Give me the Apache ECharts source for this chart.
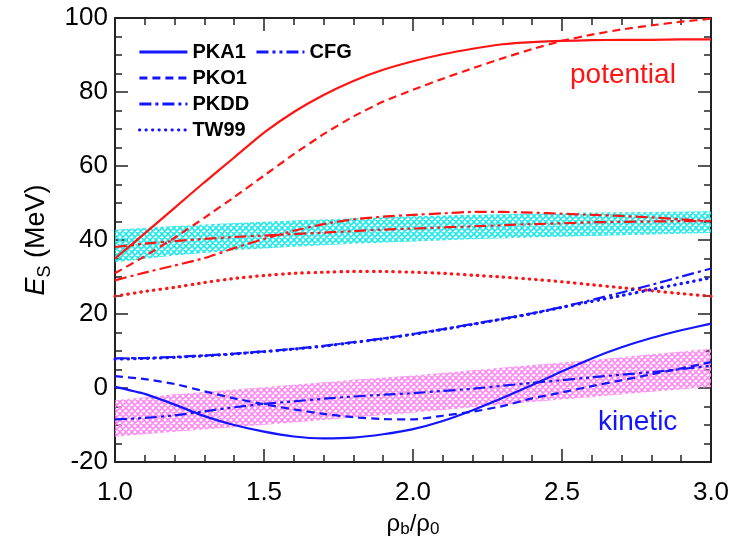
<!DOCTYPE html>
<html><head><meta charset="utf-8">
<script src="https://cdn.jsdelivr.net/npm/echarts/dist/echarts.min.js"></script>
<style>html,body{margin:0;padding:0;background:#fff}#c{width:746px;height:543px}</style>
</head><body><div id="c"></div>
<script>
// x values: rho_b / rho_0
const xs = [1.0,1.1,1.2,1.3,1.4,1.5,1.6,1.7,1.8,1.9,2.0,2.1,2.2,2.3,2.4,2.5,2.6,2.7,2.8,2.9,3.0];
// potential parts (red)
const pka1Pot = [35,41.8,48.7,55.6,62.3,69,74.6,79.2,83,86,88.3,90.2,91.7,92.9,93.5,93.8,94,94.1,94.1,94.2,94.2];
const pko1Pot = [31,35.6,40.6,46,51.6,57.4,63.2,68.6,73.4,77.4,80.6,83.6,86.4,89.1,91.6,93.8,95.5,96.9,98,99,99.8];
const pkddPot = [29.1,31.2,33.1,35.1,37.8,40.3,42.5,44.3,45.6,46.3,46.8,47.2,47.6,47.6,47.4,47.1,46.8,46.5,46.1,45.6,45.1];
const tw99Pot = [24.8,26.1,27.2,28.5,29.6,30.4,31,31.3,31.5,31.5,31.3,31,30.5,30,29.4,28.7,27.9,27.1,26.3,25.5,24.8];
const cfgPot  = [38.1,39,39.7,40.3,40.8,41.2,41.6,42,42.4,42.8,43.1,43.4,43.7,44,44.3,44.5,44.8,44.9,45,45.1,45.1];
// kinetic parts (blue)
const pka1Kin = [0.3,-1.6,-4.5,-7.6,-10,-11.8,-13.1,-13.6,-13.4,-12.5,-11.1,-8.9,-6,-2.7,0.8,4.5,8,11,13.5,15.6,17.4];
const pko1Kin = [3.2,2.4,1.1,-0.9,-2.8,-4.4,-5.8,-7,-7.9,-8.4,-8.5,-7.5,-6.4,-4.9,-2.8,-1.2,0.5,2.1,3.7,5.3,7];
const pkddKin = [8,8.1,8.4,8.8,9.3,9.9,10.6,11.4,12.4,13.4,14.6,15.9,17.3,18.7,20.2,21.9,23.8,25.8,27.9,30.1,32.3];
const tw99Kin = [7.8,8,8.3,8.7,9.2,9.8,10.5,11.3,12.3,13.3,14.5,15.8,17.2,18.6,20.1,21.8,23.4,25,26.6,28.2,29.8];
const cfgKin  = [-8.5,-8.1,-7.4,-6.3,-5.2,-4.3,-3.6,-2.9,-2.3,-1.8,-1.4,-0.8,-0.2,0.6,1.4,2.1,2.9,3.6,4.3,5.1,6];
// bands
const bandX = [1.0,1.2,1.4,1.6,1.8,2.0,2.2,2.4,2.6,2.8,3.0];
const cyanLow  = [34,35.8,37.2,38.2,39,39.6,40.2,40.7,41.1,41.5,41.9];
const cyanHigh = [42.8,43.8,44.6,45.3,45.9,46.4,46.8,47.1,47.4,47.6,47.8];
const magLow   = [-13.2,-11.8,-10.6,-9.3,-8,-6.7,-5.2,-3.8,-2.4,-1,0.3];
const magHigh  = [-3.3,-1.7,-0.4,0.9,2.2,3.4,4.8,6.2,7.6,9.1,10.6];
// axis ticks
const xTicks = [1.0,1.5,2.0,2.5,3.0];
const yTicks = [-20,0,20,40,60,80,100];
const modelNames = ['PKA1','PKO1','PKDD','TW99','CFG'];

const RED = '#ff1414', BLUE = '#1414ff';
const FONT = 'Liberation Sans, Arial, sans-serif';

function hatch(color) {
  const c = document.createElement('canvas');
  c.width = 6; c.height = 6;
  const g = c.getContext('2d');
  g.strokeStyle = color; g.lineWidth = 1.6;
  g.beginPath();
  g.moveTo(-1,-1); g.lineTo(7,7);
  g.moveTo(7,-1); g.lineTo(-1,7);
  g.moveTo(-4,2); g.lineTo(2,-4); g.moveTo(4,10); g.lineTo(10,4);
  g.moveTo(2,10); g.lineTo(-4,4); g.moveTo(10,2); g.lineTo(4,-4);
  g.stroke();
  return c;
}

const pair = (xArr, yArr) => xArr.map((x, i) => [x, yArr[i]]);
const styles = {
  PKA1: {type: 'solid', width: 2.2},
  PKO1: {type: [8, 5], width: 2.2},
  PKDD: {type: [12, 4, 3, 4], width: 2.2},
  TW99: {type: [0.5, 6], width: 3.2, cap: 'round'},
  CFG:  {type: [12, 4, 3, 4, 3, 4], width: 2.2}
};
const potData = {PKA1: pka1Pot, PKO1: pko1Pot, PKDD: pkddPot, TW99: tw99Pot, CFG: cfgPot};
const kinData = {PKA1: pka1Kin, PKO1: pko1Kin, PKDD: pkddKin, TW99: tw99Kin, CFG: cfgKin};

const series = [];
function band(low, high, color) {
  const pat = hatch(color);
  series.push({
    type: 'custom', silent: true, z: 1, clip: true,
    data: bandX.map((x, i) => [x, low[i], high[i]]),
    encode: {x: 0, y: [1, 2]},
    renderItem: (params, api) => {
      if (params.dataIndex !== 0) return null;
      const pts = [];
      bandX.forEach((x, i) => pts.push(api.coord([x, high[i]])));
      for (let i = bandX.length - 1; i >= 0; i--) pts.push(api.coord([bandX[i], low[i]]));
      return {type: 'polygon', shape: {points: pts}, style: {fill: {image: pat, repeat: 'repeat'}}};
    }
  });
}
band(cyanLow, cyanHigh, '#1ee8e8');
band(magLow, magHigh, '#ff88f0');

modelNames.forEach(n => {
  series.push({
    name: n + ' potential', type: 'line', symbol: 'none', smooth: 0.15, z: 3,
    data: pair(xs, potData[n]), lineStyle: Object.assign({color: RED}, styles[n]), itemStyle: {color: RED}
  });
});
modelNames.forEach(n => {
  series.push({
    name: n, type: 'line', symbol: 'none', smooth: 0.15, z: 3,
    data: pair(xs, kinData[n]), lineStyle: Object.assign({color: BLUE}, styles[n]), itemStyle: {color: BLUE}
  });
});

const axisCommon = {
  axisLine: {show: true, onZero: false, lineStyle: {color: '#222', width: 2}},
  axisTick: {show: true, inside: true, length: 13, lineStyle: {color: '#222', width: 1.5}},
  minorTick: {show: true, length: 7, lineStyle: {color: '#222', width: 1.5}},
  splitLine: {show: false}
};
const xBase = Object.assign({type: 'value', min: xTicks[0], max: xTicks[xTicks.length-1], interval: 0.5}, axisCommon);
xBase.minorTick = Object.assign({splitNumber: 5}, axisCommon.minorTick);
const yBase = Object.assign({type: 'value', min: yTicks[0], max: yTicks[yTicks.length-1], interval: 20}, axisCommon);
yBase.minorTick = Object.assign({splitNumber: 4}, axisCommon.minorTick);

const option = {
  animation: false,
  backgroundColor: '#fff',
  grid: {left: 115, right: 35, top: 18, bottom: 81},
  legend: {
    data: modelNames, orient: 'vertical', left: 138, top: 42, height: 112,
    itemWidth: 48, itemHeight: 16, itemGap: 6, padding: 0,
    itemStyle: {opacity: 0, borderWidth: 0},
    lineStyle: {width: 2.8},
    textStyle: {fontFamily: FONT, fontWeight: 'bold', fontSize: 20, color: '#000'}
  },
  xAxis: [
    Object.assign({}, xBase, {
      position: 'bottom',
      axisLabel: {margin: 18, fontSize: 26, color: '#000', fontFamily: FONT, formatter: v => v.toFixed(1)},
      name: 'ρ{s|b}/ρ{s|0}', nameLocation: 'middle', nameGap: 48,
      nameTextStyle: {fontSize: 24, color: '#000', fontFamily: FONT,
        rich: {s: {fontSize: 17, color: '#000', fontFamily: FONT, padding: [11, 0, 0, 0]}}}
    }),
    Object.assign({}, xBase, {position: 'top', axisLabel: {show: false}})
  ],
  yAxis: [
    Object.assign({}, yBase, {
      position: 'left',
      axisLabel: {margin: 7, fontSize: 26, color: '#000', fontFamily: FONT},
      name: '{i|E}{s|S} (MeV)', nameLocation: 'middle', nameGap: 53,
      nameTextStyle: {fontSize: 27, color: '#000', fontFamily: FONT,
        rich: {i: {fontSize: 27, fontStyle: 'italic', color: '#000', fontFamily: FONT},
               s: {fontSize: 18, color: '#000', fontFamily: FONT, padding: [16, 0, 0, 0]}}}
    }),
    Object.assign({}, yBase, {position: 'right', axisLabel: {show: false}})
  ],
  graphic: [
    {type: 'text', left: 570, top: 61, style: {text: 'potential', fill: RED, font: '28px ' + FONT}},
    {type: 'text', left: 598, top: 408, style: {text: 'kinetic', fill: BLUE, font: '28px ' + FONT}}
  ],
  series: series
};
const chart = echarts.init(document.getElementById('c'), null, {renderer: 'canvas'});
chart.setOption(option);
</script>
</body></html>
